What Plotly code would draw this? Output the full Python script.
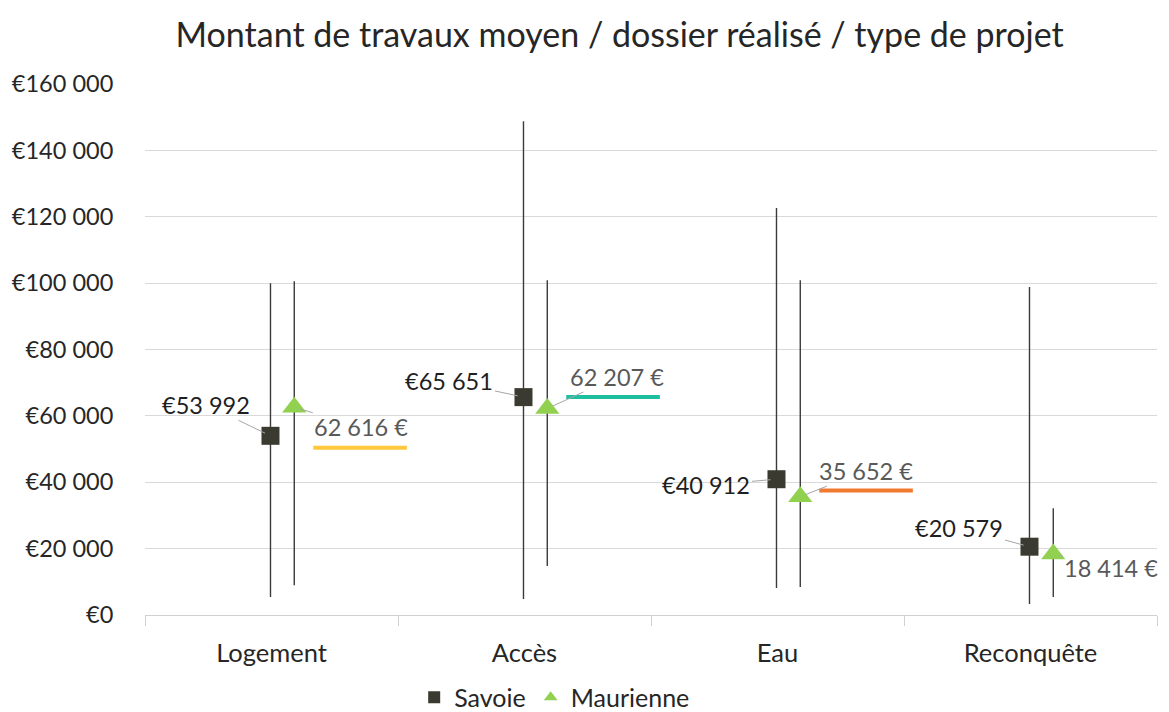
import plotly.graph_objects as go

categories = ["Logement", "Accès", "Eau", "Reconquête"]
savoie_mean = [53992, 65651, 40912, 20579]
savoie_min = [5400, 4800, 8100, 3300]
savoie_max = [100000, 148800, 122600, 98800]
maurienne_mean = [62616, 62207, 35652, 18414]
maurienne_min = [9000, 14800, 8400, 5400]
maurienne_max = [100600, 100900, 100900, 32200]
savoie_labels = ["€53 992", "€65 651", "€40 912", "€20 579"]
maurienne_labels = ["62 616 €", "62 207 €", "35 652 €", "18 414 €"]
marker_lines = [50400, 65700, 37500]  # short coloured reference bars
marker_colors = ["#FFC83D", "#1DBFA0", "#F07A30"]
y_ticks = [0, 20000, 40000, 60000, 80000, 100000, 120000, 140000, 160000]
y_ticktext = ["€0", "€20 000", "€40 000", "€60 000", "€80 000", "€100 000",
              "€120 000", "€140 000", "€160 000"]

FONT = "Lato"
SAV_OFF = -0.004
MAU_OFF = 0.09
idx = list(range(len(categories)))

fig = go.Figure()

fig.add_trace(go.Scatter(
    x=[i + SAV_OFF for i in idx], y=savoie_mean, mode="markers", name="Savoie",
    marker=dict(symbol="square", size=18, color="#3A3A30"),
    error_y=dict(type="data", symmetric=False,
                 array=[mx - m for mx, m in zip(savoie_max, savoie_mean)],
                 arrayminus=[m - mn for m, mn in zip(savoie_mean, savoie_min)],
                 color="#3A3A3A", thickness=1.4, width=0),
))
fig.add_trace(go.Scatter(
    x=[i + MAU_OFF for i in idx], y=maurienne_mean, mode="markers", name="Maurienne",
    marker=dict(symbol="triangle-up", size=21, color="#92D050"),
    error_y=dict(type="data", symmetric=False,
                 array=[mx - m for mx, m in zip(maurienne_max, maurienne_mean)],
                 arrayminus=[m - mn for m, mn in zip(maurienne_mean, maurienne_min)],
                 color="#3A3A3A", thickness=1.4, width=0),
))

for i, (v, c) in enumerate(zip(marker_lines, marker_colors)):
    fig.add_trace(go.Scatter(
        x=[i + 0.165, i + 0.535], y=[v, v], mode="lines",
        line=dict(color=c, width=4), showlegend=False, hoverinfo="skip"))

sav_offsets = [(-64, -31), (-74, -16), (-70, 6), (-70, -19)]
mau_offsets = [(67, 20), (70, -32), (66, -26), (58, 14)]
for i in idx:
    fig.add_annotation(x=i + SAV_OFF, y=savoie_mean[i], text=savoie_labels[i],
                       ax=sav_offsets[i][0], ay=sav_offsets[i][1],
                       showarrow=True, arrowhead=0, arrowwidth=1, arrowcolor="#A6A6A6",
                       standoff=6, font=dict(family=FONT, size=23.5, color="#1F1F1F"))
    fig.add_annotation(x=i + MAU_OFF, y=maurienne_mean[i], text=maurienne_labels[i],
                       ax=mau_offsets[i][0], ay=mau_offsets[i][1],
                       showarrow=True, arrowhead=0, arrowwidth=1, arrowcolor="#A6A6A6",
                       standoff=6, font=dict(family=FONT, size=23.5, color="#595959"))

# page body adds an 8px margin, so the figure is sized to fit the window
fig.update_layout(
    width=1161, height=704,
    margin=dict(l=137, r=12, t=76, b=97, autoexpand=False),
    paper_bgcolor="white", plot_bgcolor="white",
    font=dict(family=FONT, size=21, color="#262626"),
    title=dict(text="Montant de travaux moyen / dossier réalisé / type de projet",
               x=0.469, xref="paper", xanchor="center", y=0.962, yanchor="middle",
               font=dict(family=FONT, size=34, color="#262626")),
    showlegend=True,
    legend=dict(orientation="h", x=0.266, xanchor="left", y=-0.112, yanchor="top",
                font=dict(family=FONT, size=25, color="#262626"),
                itemsizing="constant", bgcolor="rgba(0,0,0,0)"),
    xaxis=dict(range=[-0.5, 3.5], tickmode="array", tickvals=idx, ticktext=categories,
               ticks="outside", ticklen=15, tickcolor="rgba(0,0,0,0)",
               showgrid=False, zeroline=False, showline=True, linecolor="#D0D0D0",
               linewidth=1, automargin=False,
               minor=dict(tickmode="array", tickvals=[-0.5, 0.5, 1.5, 2.5, 3.5],
                          ticks="outside", ticklen=10, tickcolor="#D0D0D0", showgrid=False),
               tickfont=dict(family=FONT, size=25.5, color="#262626")),
    yaxis=dict(range=[0, 160000], tickmode="array", tickvals=y_ticks, ticktext=y_ticktext,
               ticks="outside", ticklen=26, tickcolor="rgba(0,0,0,0)", automargin=False,
               showgrid=True, gridcolor="#D9D9D9", gridwidth=1, zeroline=False,
               showline=False, tickfont=dict(family=FONT, size=23.5, color="#262626")),
)

fig.write_html("out.html")
